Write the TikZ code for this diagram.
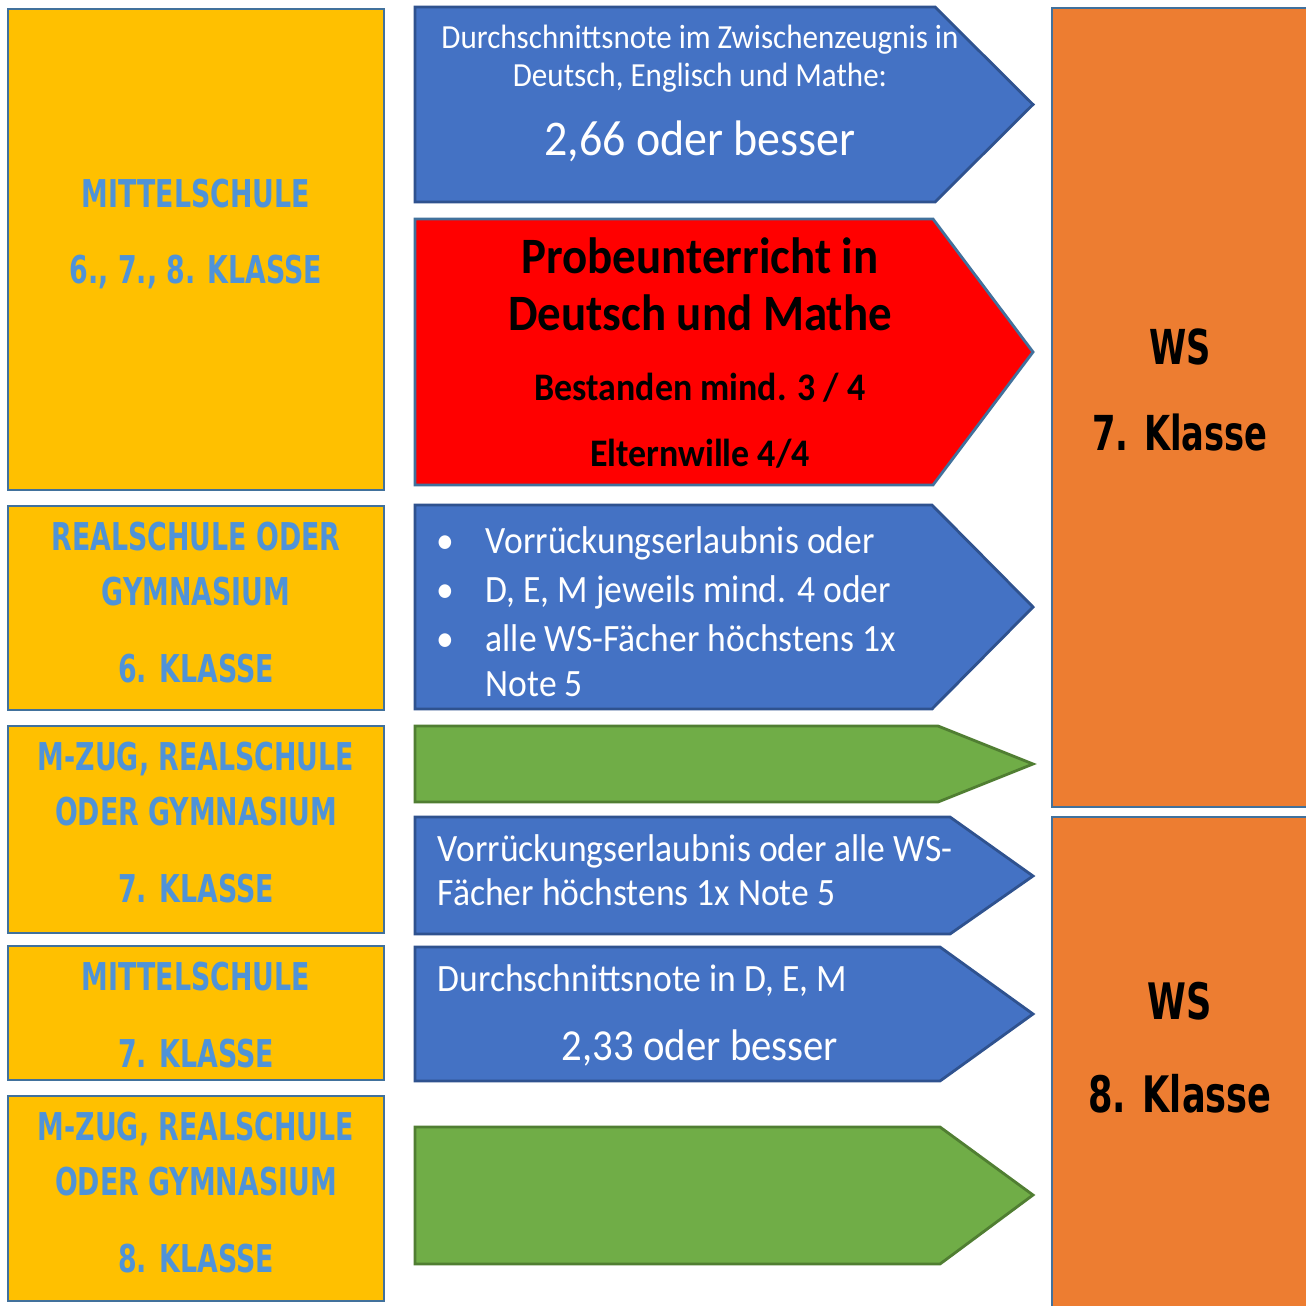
\documentclass[tikz,border=0pt]{standalone}
\usepackage{fontspec}
\setmainfont{Carlito}[FakeStretch=0.92]
\newfontfamily\artfont{DejaVu Sans}[FakeStretch=0.7]
\usetikzlibrary{positioning}

\definecolor{gelb}{HTML}{FFC000}
\definecolor{orangews}{HTML}{ED7D31}
\definecolor{blau}{HTML}{4472C4}
\definecolor{blaurand}{HTML}{2F528F}
\definecolor{rot}{HTML}{FF0000}
\definecolor{gruen}{HTML}{70AD47}
\definecolor{gruenrand}{HTML}{507E32}
\definecolor{rahmen}{HTML}{41719C}
\definecolor{artblau}{HTML}{4F93D8}

\begin{document}
\begin{tikzpicture}[x=0.01cm,y=-0.01cm,
  kasten/.style={draw=rahmen,line width=0.8pt},
  art/.style={font=\artfont\bfseries\fontsize{10.9}{13}\selectfont,text=artblau,text height=0.73em,text depth=0pt,inner sep=0pt},
  ws/.style={font=\artfont\bfseries\fontsize{13.7}{16}\selectfont,text=black,text height=0.73em,text depth=0pt,inner sep=0pt},
  klein/.style={font=\fontsize{9.6}{11}\selectfont,text=white,text height=0.64em,text depth=0pt,inner sep=0pt},
  mittel/.style={font=\fontsize{11}{13}\selectfont,text=white,text height=0.64em,text depth=0pt,inner sep=0pt},
  gross/.style={font=\fontsize{14.2}{16}\selectfont,text=white,text height=0.64em,text depth=0pt,inner sep=0pt},
  fett/.style={font=\bfseries\fontsize{14.5}{17}\selectfont,text=black,text height=0.64em,text depth=0pt,inner sep=0pt},
  fettklein/.style={font=\bfseries\fontsize{11.1}{13}\selectfont,text=black,text height=0.64em,text depth=0pt,inner sep=0pt}]
\useasboundingbox (0,0) rectangle (1306,1306);
\clip (0,0) rectangle (1306,1306);
\fill[white] (0,0) rectangle (1306,1306);

% linke Spalte
\draw[kasten,fill=gelb] (8,9) rectangle (384,490);
\draw[kasten,fill=gelb] (8,506) rectangle (384,710);
\draw[kasten,fill=gelb] (8,726) rectangle (384,933);
\draw[kasten,fill=gelb] (8,946) rectangle (384,1080);
\draw[kasten,fill=gelb] (8,1096) rectangle (384,1301);
\node[art] (ms1) at (196,195) {MITTELSCHULE};
\node[art] (ms2) at (196,271) {6., 7., 8. KLASSE};
\node[art] (rs1) at (196,538) {REALSCHULE ODER};
\node[art] (rs2) at (196,593) {GYMNASIUM};
\node[art] (rs3) at (196,670) {6. KLASSE};
\node[art] (mz1) at (196,758) {M-ZUG, REALSCHULE};
\node[art] (mz2) at (196,813) {ODER GYMNASIUM};
\node[art] (mz3) at (196,890) {7. KLASSE};
\node[art] (mt1) at (196,978) {MITTELSCHULE};
\node[art] (mt2) at (196,1055) {7. KLASSE};
\node[art] (mg1) at (196,1128) {M-ZUG, REALSCHULE};
\node[art] (mg2) at (196,1183) {ODER GYMNASIUM};
\node[art] (mg3) at (196,1260) {8. KLASSE};

% Pfeile
\draw[draw=blaurand,line width=0.8pt,fill=blau] (415,7) -- (935,7) -- (1033,104.5) -- (935,202) -- (415,202) -- cycle;
\draw[kasten,fill=rot] (415,219) -- (933,219) -- (1033,352) -- (933,485) -- (415,485) -- cycle;
\draw[draw=blaurand,line width=0.8pt,fill=blau] (415,505) -- (932,505) -- (1033,607) -- (932,709) -- (415,709) -- cycle;
\draw[draw=gruenrand,line width=0.8pt,fill=gruen] (415,726) -- (938,726) -- (1033,764) -- (938,802) -- (415,802) -- cycle;
\draw[draw=blaurand,line width=0.8pt,fill=blau] (415,817) -- (950,817) -- (1033,876) -- (950,934) -- (415,934) -- cycle;
\draw[draw=blaurand,line width=0.8pt,fill=blau] (415,947) -- (940,947) -- (1033,1014) -- (940,1081) -- (415,1081) -- cycle;
\draw[draw=gruenrand,line width=0.8pt,fill=gruen] (415,1127) -- (940,1127) -- (1033,1195) -- (940,1264) -- (415,1264) -- cycle;

\node[klein] (dn1) at (700,37) {Durchschnittsnote im Zwischenzeugnis in};
\node[klein] (dn2) at (700,75) {Deutsch, Englisch und Mathe:};
\node[gross] (dn3) at (700,144) {2,66 oder besser};
\node[fett] (pu1) at (700,262) {Probeunterricht in};
\node[fett] (pu2) at (700,319) {Deutsch und Mathe};
\node[fettklein] (pu3) at (700,389) {Bestanden mind. 3 / 4};
\node[fettklein] (pu4) at (700,455) {Elternwille 4/4};
\foreach \y/\t in {542/Vorrückungserlaubnis oder,591/{D, E, M jeweils mind. 4 oder},640/alle WS-Fächer höchstens 1x}{
  \node[mittel] (b\y) at (445,\y) {\textbullet};
  \node[mittel,anchor=west] (v\y) at (485,\y) {\t};
}
\node[mittel,anchor=west] (v684) at (485,685) {Note 5};
\node[mittel,anchor=west] (ve1) at (437,850) {Vorrückungserlaubnis oder alle WS-};
\node[mittel,anchor=west] (ve2) at (437,894) {Fächer höchstens 1x Note 5};
\node[mittel,anchor=west] (dd1) at (437,980) {Durchschnittsnote in D, E, M};
\node[mittel,font=\fontsize{12.6}{14}\selectfont] (dd2) at (700,1049) {2,33 oder besser};

% rechte Spalte
\draw[kasten,fill=orangews] (1052,8) rectangle (1320,807);
\draw[kasten,fill=orangews] (1052,817) rectangle (1320,1320);
\node[ws] (ws7a) at (1180,352) {WS};
\node[ws] (ws7b) at (1180,438) {7. Klasse};
\node[ws,font=\artfont\bfseries\fontsize{14.3}{17}\selectfont] (ws8a) at (1180,1007) {WS};
\node[ws,font=\artfont\bfseries\fontsize{14.3}{17}\selectfont] (ws8b) at (1180,1100) {8. Klasse};
\end{tikzpicture}
\end{document}
